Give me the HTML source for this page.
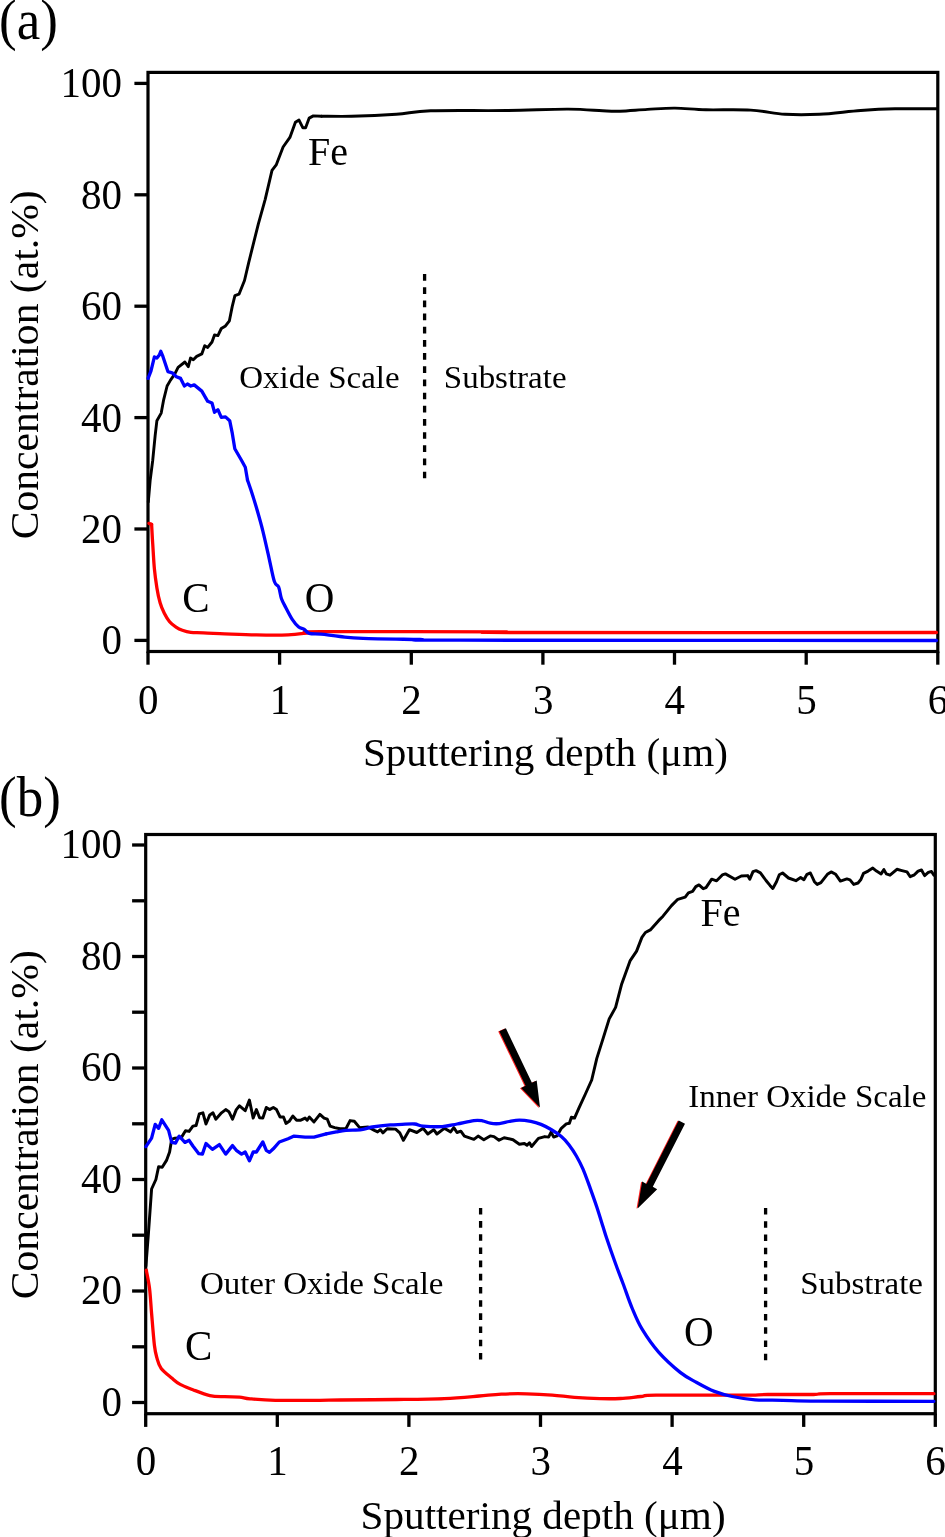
<!DOCTYPE html>
<html lang="en"><head><meta charset="utf-8"><title>Depth profiles</title>
<style>html,body{margin:0;padding:0;background:#fff}svg{display:block;will-change:transform}text{font-family:"Liberation Serif","DejaVu Serif",serif;fill:#000}.ax{stroke:#000;stroke-width:3.2;fill:none;stroke-linecap:butt}.tk{stroke:#000;stroke-width:3.3;fill:none;stroke-linecap:butt}.fe{stroke:#000;stroke-width:2.9;fill:none;stroke-linejoin:round;stroke-linecap:round}.o{stroke:#0000ff;stroke-width:3.3;fill:none;stroke-linejoin:round;stroke-linecap:round}.c{stroke:#ff0000;stroke-width:3.3;fill:none;stroke-linejoin:round;stroke-linecap:round}.dot{stroke:#000;stroke-width:3.3;fill:none}</style></head><body>
<svg width="945" height="1537" viewBox="0 0 945 1537">
<rect x="0" y="0" width="945" height="1537" fill="#fff"/>
<g>
<rect class="ax" x="148.0" y="72.4" width="789.8" height="579.1"/>
<line class="tk" x1="134.4" y1="640.4" x2="147.0" y2="640.4"/>
<line class="tk" x1="134.4" y1="529.0" x2="147.0" y2="529.0"/>
<line class="tk" x1="134.4" y1="417.6" x2="147.0" y2="417.6"/>
<line class="tk" x1="134.4" y1="306.2" x2="147.0" y2="306.2"/>
<line class="tk" x1="134.4" y1="194.8" x2="147.0" y2="194.8"/>
<line class="tk" x1="134.4" y1="83.4" x2="147.0" y2="83.4"/>
<text transform="translate(122.0,654.4) scale(1,1.04)" font-size="41" text-anchor="end">0</text>
<text transform="translate(122.0,543.0) scale(1,1.04)" font-size="41" text-anchor="end">20</text>
<text transform="translate(122.0,431.6) scale(1,1.04)" font-size="41" text-anchor="end">40</text>
<text transform="translate(122.0,320.2) scale(1,1.04)" font-size="41" text-anchor="end">60</text>
<text transform="translate(122.0,208.8) scale(1,1.04)" font-size="41" text-anchor="end">80</text>
<text transform="translate(122.0,97.4) scale(1,1.04)" font-size="41" text-anchor="end">100</text>
<line class="tk" x1="148.0" y1="651.5" x2="148.0" y2="664.7"/>
<text transform="translate(148.3,713.8) scale(1,1.04)" font-size="41" text-anchor="middle">0</text>
<line class="tk" x1="279.6" y1="651.5" x2="279.6" y2="664.7"/>
<text transform="translate(279.9,713.8) scale(1,1.04)" font-size="41" text-anchor="middle">1</text>
<line class="tk" x1="411.3" y1="651.5" x2="411.3" y2="664.7"/>
<text transform="translate(411.6,713.8) scale(1,1.04)" font-size="41" text-anchor="middle">2</text>
<line class="tk" x1="542.9" y1="651.5" x2="542.9" y2="664.7"/>
<text transform="translate(543.2,713.8) scale(1,1.04)" font-size="41" text-anchor="middle">3</text>
<line class="tk" x1="674.5" y1="651.5" x2="674.5" y2="664.7"/>
<text transform="translate(674.8,713.8) scale(1,1.04)" font-size="41" text-anchor="middle">4</text>
<line class="tk" x1="806.2" y1="651.5" x2="806.2" y2="664.7"/>
<text transform="translate(806.5,713.8) scale(1,1.04)" font-size="41" text-anchor="middle">5</text>
<line class="tk" x1="937.8" y1="651.5" x2="937.8" y2="664.7"/>
<text transform="translate(938.1,713.8) scale(1,1.04)" font-size="41" text-anchor="middle">6</text>
<text transform="translate(362.9,766.3) scale(1,0.96)" font-size="41" textLength="365" lengthAdjust="spacingAndGlyphs">Sputtering depth (μm)</text>
<text transform="translate(38.2,539.3) rotate(-90) scale(1,0.97)" font-size="41" textLength="349" lengthAdjust="spacingAndGlyphs">Concentration (at.%)</text>
<text transform="translate(-0.9,39.4) scale(1,1.07)" font-size="53">(a)</text>
</g>
<g>
<rect class="ax" x="145.7" y="834.5" width="789.6" height="579.2"/>
<line class="tk" x1="132.1" y1="1402.5" x2="144.7" y2="1402.5"/>
<line class="tk" x1="132.1" y1="1346.8" x2="144.7" y2="1346.8"/>
<line class="tk" x1="132.1" y1="1291.0" x2="144.7" y2="1291.0"/>
<line class="tk" x1="132.1" y1="1235.2" x2="144.7" y2="1235.2"/>
<line class="tk" x1="132.1" y1="1179.5" x2="144.7" y2="1179.5"/>
<line class="tk" x1="132.1" y1="1123.8" x2="144.7" y2="1123.8"/>
<line class="tk" x1="132.1" y1="1068.0" x2="144.7" y2="1068.0"/>
<line class="tk" x1="132.1" y1="1012.2" x2="144.7" y2="1012.2"/>
<line class="tk" x1="132.1" y1="956.5" x2="144.7" y2="956.5"/>
<line class="tk" x1="132.1" y1="900.8" x2="144.7" y2="900.8"/>
<line class="tk" x1="132.1" y1="845.0" x2="144.7" y2="845.0"/>
<text transform="translate(122.0,1415.5) scale(1,1.04)" font-size="41" text-anchor="end">0</text>
<text transform="translate(122.0,1304.0) scale(1,1.04)" font-size="41" text-anchor="end">20</text>
<text transform="translate(122.0,1192.5) scale(1,1.04)" font-size="41" text-anchor="end">40</text>
<text transform="translate(122.0,1081.0) scale(1,1.04)" font-size="41" text-anchor="end">60</text>
<text transform="translate(122.0,969.5) scale(1,1.04)" font-size="41" text-anchor="end">80</text>
<text transform="translate(122.0,858.0) scale(1,1.04)" font-size="41" text-anchor="end">100</text>
<line class="tk" x1="145.7" y1="1413.7" x2="145.7" y2="1426.9"/>
<text transform="translate(146.0,1474.8) scale(1,1.04)" font-size="41" text-anchor="middle">0</text>
<line class="tk" x1="277.3" y1="1413.7" x2="277.3" y2="1426.9"/>
<text transform="translate(277.6,1474.8) scale(1,1.04)" font-size="41" text-anchor="middle">1</text>
<line class="tk" x1="408.9" y1="1413.7" x2="408.9" y2="1426.9"/>
<text transform="translate(409.2,1474.8) scale(1,1.04)" font-size="41" text-anchor="middle">2</text>
<line class="tk" x1="540.5" y1="1413.7" x2="540.5" y2="1426.9"/>
<text transform="translate(540.8,1474.8) scale(1,1.04)" font-size="41" text-anchor="middle">3</text>
<line class="tk" x1="672.1" y1="1413.7" x2="672.1" y2="1426.9"/>
<text transform="translate(672.4,1474.8) scale(1,1.04)" font-size="41" text-anchor="middle">4</text>
<line class="tk" x1="803.7" y1="1413.7" x2="803.7" y2="1426.9"/>
<text transform="translate(804.0,1474.8) scale(1,1.04)" font-size="41" text-anchor="middle">5</text>
<line class="tk" x1="935.3" y1="1413.7" x2="935.3" y2="1426.9"/>
<text transform="translate(935.6,1474.8) scale(1,1.04)" font-size="41" text-anchor="middle">6</text>
<text transform="translate(360.6,1528.5) scale(1,0.96)" font-size="41" textLength="365" lengthAdjust="spacingAndGlyphs">Sputtering depth (μm)</text>
<text transform="translate(38.2,1299.2) rotate(-90) scale(1,0.97)" font-size="41" textLength="349" lengthAdjust="spacingAndGlyphs">Concentration (at.%)</text>
<text transform="translate(-0.9,816.2) scale(1,1.07)" font-size="53">(b)</text>
</g>
<polyline class="fe" points="148.3,502.0 150.2,480.0 152.7,460.5 155.2,435.1 156.9,420.7 161.2,413.1 163.7,399.6 167.1,386.0 170.5,380.1 174.7,374.2 178.1,367.4 184.9,362.0 188.3,366.6 190.5,358.1 193.3,359.8 196.7,356.4 201.8,353.9 204.7,345.7 207.7,347.4 212.0,342.0 214.5,334.9 217.9,335.6 221.3,328.5 225.5,325.9 229.4,320.8 232.2,306.6 234.9,295.6 239.0,294.2 244.5,280.5 248.7,262.6 258.3,224.1 265.2,199.3 272.0,170.4 276.2,164.9 283.1,147.0 289.9,137.4 295.4,122.3 299.0,120.1 302.9,127.8 305.6,127.8 309.2,118.1 313.3,115.9 321.6,116.2"/>
<path class="fe" d="M321.6,116.2C326.6,116.2 339.2,116.6 351.6,116.3C364.1,116.0 383.1,115.2 396.3,114.3C409.5,113.4 412.4,111.4 430.7,110.8C449.0,110.2 483.4,110.8 506.3,110.5C529.2,110.2 552.2,109.0 568.2,109.1C584.2,109.1 594.0,110.4 602.6,110.8C611.2,111.2 612.5,111.4 620.0,111.2C627.5,111.0 638.3,109.9 647.5,109.4C656.7,108.9 665.2,108.0 675.0,108.1C684.8,108.2 693.4,109.5 706.0,109.8C718.6,110.1 737.5,109.3 750.7,110.1C763.9,110.8 773.5,113.6 785.0,114.3C796.5,115.0 806.9,114.9 819.5,114.3C832.1,113.7 848.1,111.4 860.7,110.5C873.3,109.6 882.4,109.1 895.0,108.8C907.6,108.5 929.5,108.8 936.4,108.8"/>
<path class="c" d="M151.6,524.4C151.8,527.6 152.2,536.1 152.7,543.5C153.2,550.9 153.7,561.5 154.4,568.9C155.1,576.3 156.0,582.2 156.9,587.9C157.8,593.5 158.9,598.6 160.1,602.8C161.3,607.0 162.7,610.1 164.3,613.3C165.9,616.5 167.7,619.5 169.6,621.8C171.5,624.1 173.9,625.7 176.0,627.1C178.1,628.5 179.8,629.4 182.3,630.3C184.8,631.2 187.3,632.0 190.8,632.4C194.3,632.8 197.8,632.5 203.5,632.8C209.2,633.0 215.9,633.5 224.7,633.9C233.5,634.2 245.8,634.7 256.4,634.9C267.0,635.1 279.3,635.2 288.1,634.9C296.9,634.5 304.0,633.3 309.3,632.8C314.6,632.3 288.2,631.9 320.0,631.7C351.8,631.5 468.3,631.7 500.0,631.8C531.7,631.9 437.3,632.4 510.0,632.5C582.7,632.6 865.3,632.5 936.4,632.5"/>
<polyline class="c" points="148.9,523.4 151.6,524.4"/>
<polyline class="o" points="148.1,378.4 151.0,370.8 154.4,356.9 156.9,358.1 159.5,354.7 160.8,351.3 162.9,356.4 167.9,371.6 172.2,372.8 176.4,376.7 180.6,378.4 184.4,386.0 187.4,384.0 190.8,386.0 194.2,384.9 201.8,391.1 207.7,401.3 212.0,403.0 214.5,412.3 217.9,409.7 221.3,417.4 225.5,416.9 229.7,420.7 232.3,433.4 234.8,448.7 241.6,460.5 245.3,467.3 247.5,480.0"/>
<path class="o" d="M247.5,480.0C248.1,481.8 249.6,486.0 251.1,490.6C252.6,495.2 254.4,500.8 256.4,507.5C258.3,514.2 260.7,522.3 262.8,530.8C264.9,539.3 267.2,549.8 269.1,558.3C271.0,566.8 272.8,576.8 274.4,581.6C276.0,586.4 277.4,584.1 278.6,586.9C279.8,589.7 280.2,595.0 281.4,598.5C282.6,602.0 284.2,604.5 286.0,608.0C287.8,611.5 290.3,616.5 292.4,619.7C294.5,622.9 296.8,625.5 298.7,627.1C300.6,628.7 302.2,628.2 304.0,629.2C305.8,630.2 306.5,632.6 309.3,633.4C312.1,634.2 315.9,633.7 321.0,634.2C326.1,634.7 333.0,635.8 340.0,636.5C347.0,637.2 349.7,637.9 363.0,638.4C376.3,638.9 403.8,639.2 420.0,639.5C436.2,639.8 373.9,640.0 460.0,640.2C546.1,640.4 857.0,640.5 936.4,640.5"/>
<line class="dot" stroke-dasharray="6.7 6.47" x1="424.6" y1="274.1" x2="424.6" y2="478.6"/>
<text transform="translate(308.0,164.9) scale(1,1.0)" font-size="40">Fe</text>
<text transform="translate(182.2,612.2) scale(1,1.03)" font-size="41">C</text>
<text transform="translate(304.8,611.8) scale(1,1.03)" font-size="41">O</text>
<text transform="translate(239.3,387.7) scale(1,0.96)" font-size="33">Oxide Scale</text>
<text transform="translate(443.8,387.7) scale(1,0.96)" font-size="33">Substrate</text>
<polyline class="fe" style="stroke-width:2.95" points="145.9,1266.2 148.5,1232.4 151.6,1189.0 155.9,1179.5 158.6,1166.8 162.2,1167.2 166.5,1160.4 169.6,1152.0 171.7,1139.3 174.9,1138.2 181.3,1137.6 185.5,1130.8 189.1,1131.4 192.9,1126.1 196.1,1125.5 199.3,1113.9 202.9,1112.8 206.0,1124.0 209.8,1114.9 213.0,1112.8 215.8,1119.2 221.5,1112.8 225.7,1109.6 228.9,1111.7 232.5,1119.2 236.3,1109.6 239.5,1105.8 245.2,1110.7 249.4,1100.1 253.2,1118.1 256.4,1109.6 259.6,1117.7 262.8,1118.1 266.3,1107.5 269.5,1109.6 273.3,1107.5 276.5,1109.6 280.1,1117.0 283.5,1117.0 286.0,1123.4 289.2,1121.3 292.8,1116.0 296.6,1120.2 300.8,1120.2 305.1,1118.1 307.2,1120.2 309.3,1117.0 314.0,1121.9 319.9,1114.3 324.1,1118.1 327.3,1119.2 330.1,1126.1 334.7,1127.6 340.0,1128.7 345.9,1128.7 350.1,1120.6 354.3,1121.3 359.6,1127.6 368.1,1127.0 374.4,1130.4 377.6,1131.9 380.4,1129.7 382.9,1132.9 387.1,1128.7 395.6,1129.1 399.8,1132.9 403.4,1140.3 409.4,1129.7 416.8,1132.5 423.1,1128.3 427.8,1134.0 433.7,1129.7 436.9,1134.0 444.3,1128.3 450.6,1131.9 453.8,1127.6 457.0,1132.5 460.8,1131.2 464.4,1136.1 473.9,1139.3 478.1,1136.1 483.8,1139.7 490.2,1135.9 494.0,1136.6 499.0,1140.2 504.1,1137.7 513.0,1139.7 519.4,1144.3 524.4,1143.5 527.0,1145.3 529.5,1142.7 531.6,1146.5 538.4,1138.4 544.8,1136.6 548.6,1137.1 551.1,1132.1 553.7,1137.1 557.0,1135.9 561.3,1128.3 566.3,1123.9 569.4,1123.2 571.4,1117.3 574.5,1118.1 579.0,1107.9 585.4,1094.0 591.7,1080.0 596.8,1058.4 603.2,1038.1 609.2,1018.9 615.6,1007.4 621.7,983.9 630.2,960.6 636.6,951.1 641.9,937.4 645.4,932.5 650.3,929.9 658.8,920.4 663.0,916.2 671.5,905.6 677.8,899.3 685.2,897.1 688.4,892.9 692.6,891.4 695.8,886.6 699.0,884.9 703.2,888.7 706.0,887.6 711.7,879.2 716.6,880.8 722.3,874.9 725.4,873.9 735.0,879.2 741.3,876.0 747.7,875.6 749.8,879.2 753.0,871.7 756.1,870.7 760.4,872.8 766.0,880.5 770.0,885.4 772.8,888.5 776.5,881.7 779.3,874.8 782.6,873.0 788.5,878.0 795.9,880.7 800.6,877.6 803.9,879.8 807.0,874.3 810.4,873.0 814.4,881.7 817.2,884.4 820.9,882.6 827.4,874.3 831.1,871.9 835.7,874.3 840.4,881.1 846.9,878.9 850.0,879.8 853.7,884.4 858.0,883.0 860.7,879.8 863.5,873.3 868.1,871.1 872.8,868.1 876.5,871.1 881.1,873.9 883.9,869.6 886.3,873.9 890.0,875.2 896.9,869.3 901.9,870.6 907.0,871.9 910.2,876.7 914.4,874.8 918.1,871.1 921.5,870.0 924.6,875.6 928.3,872.4 931.5,871.5 933.9,875.2"/>
<path class="c" d="M146.3,1270.1C146.8,1273.1 148.6,1280.9 149.5,1288.1C150.4,1295.3 150.8,1304.0 151.6,1313.5C152.4,1323.0 153.5,1337.8 154.4,1345.2C155.3,1352.6 155.8,1354.0 156.9,1357.9C158.0,1361.8 158.7,1365.2 161.2,1368.5C163.7,1371.8 168.5,1375.3 171.7,1378.0C174.9,1380.7 176.7,1382.5 180.2,1384.4C183.7,1386.4 188.0,1387.8 192.9,1389.7C197.8,1391.6 204.5,1394.4 209.8,1395.6C215.1,1396.8 219.8,1396.5 224.7,1396.7C229.6,1397.0 235.3,1396.8 239.5,1397.1C243.7,1397.4 244.1,1398.3 250.1,1398.8C256.1,1399.3 263.8,1400.0 275.4,1400.3C287.0,1400.5 309.1,1400.3 319.9,1400.3C330.7,1400.2 327.2,1400.1 340.0,1400.0C352.8,1399.9 379.3,1399.7 396.7,1399.5C414.1,1399.3 430.6,1399.2 444.3,1398.6C458.1,1398.0 469.7,1396.8 479.2,1396.0C488.7,1395.2 493.5,1394.5 501.4,1394.1C509.3,1393.7 518.3,1393.6 526.8,1393.8C535.3,1394.0 544.3,1394.5 552.2,1395.1C560.1,1395.7 566.5,1396.7 574.4,1397.3C582.3,1397.9 592.1,1398.4 599.8,1398.6C607.5,1398.8 613.7,1398.8 620.5,1398.5C627.3,1398.2 634.9,1397.0 640.8,1396.5C646.7,1396.0 639.1,1395.4 656.0,1395.2C672.9,1395.0 723.8,1395.3 742.4,1395.2C761.0,1395.1 755.9,1394.6 767.8,1394.5C779.6,1394.4 803.1,1394.6 813.5,1394.5C823.9,1394.4 809.9,1393.8 830.0,1393.7C850.1,1393.6 916.6,1393.7 933.9,1393.7"/>
<polyline class="o" points="145.9,1146.7 151.6,1138.2 155.2,1124.4 158.6,1128.3 161.8,1119.8 168.6,1130.4 171.7,1142.4 175.6,1143.1 179.2,1136.1 184.9,1142.4 189.1,1140.3 192.9,1146.0 198.8,1153.7 202.4,1154.1 206.0,1143.5 212.4,1149.4 219.4,1144.6 225.7,1154.1 232.5,1145.6 236.3,1150.3 241.6,1154.1 245.2,1152.0 249.4,1160.8 253.2,1152.0 256.4,1152.0 262.8,1142.0 266.3,1150.3 269.5,1152.4 273.3,1148.8 279.3,1142.0 288.1,1138.8 294.1,1136.1 305.1,1137.1 314.0,1137.1 326.2,1133.8"/>
<path class="o" d="M326.2,1133.8C327.9,1133.5 333.0,1132.5 336.3,1131.9C339.6,1131.3 341.7,1130.8 345.9,1130.4C350.1,1130.0 357.3,1130.3 361.7,1129.7C366.1,1129.1 367.5,1127.8 372.3,1127.0C377.1,1126.2 385.4,1125.3 390.3,1124.9C395.2,1124.5 397.9,1124.6 402.0,1124.4C406.1,1124.2 411.2,1123.7 414.7,1124.0C418.2,1124.3 418.5,1125.7 423.1,1126.1C427.7,1126.5 436.6,1126.9 442.2,1126.6C447.8,1126.2 451.7,1125.0 457.0,1124.0C462.3,1123.0 469.7,1121.1 473.9,1120.6C478.1,1120.1 479.7,1120.4 482.4,1120.8C485.1,1121.2 487.4,1122.7 490.2,1123.2C493.0,1123.7 496.1,1123.9 499.3,1123.6C502.5,1123.3 505.9,1122.1 509.2,1121.5C512.5,1120.9 515.8,1120.1 519.4,1120.1C523.0,1120.1 527.2,1120.7 530.8,1121.4C534.4,1122.1 537.6,1123.1 541.0,1124.4C544.4,1125.8 547.7,1127.5 551.1,1129.5C554.5,1131.5 558.3,1134.0 561.3,1136.6C564.3,1139.1 566.4,1141.5 568.9,1144.8C571.4,1148.1 574.2,1152.2 576.5,1156.2C578.8,1160.2 580.8,1164.0 582.9,1168.9C585.0,1173.8 586.9,1179.1 589.2,1185.4C591.5,1191.8 594.5,1200.0 596.8,1207.0C599.1,1214.0 601.6,1222.2 603.2,1227.3C604.8,1232.4 604.5,1231.8 606.5,1237.8C608.5,1243.8 612.6,1255.6 615.4,1263.2C618.1,1270.8 620.2,1276.1 623.0,1283.5C625.8,1290.9 628.7,1300.0 631.9,1307.6C635.1,1315.2 637.6,1321.8 642.1,1329.2C646.6,1336.6 652.2,1344.9 658.6,1352.1C665.0,1359.3 673.9,1367.3 680.2,1372.4C686.6,1377.5 691.0,1379.3 696.7,1382.5C702.4,1385.7 708.5,1389.1 714.4,1391.4C720.3,1393.7 725.4,1395.1 732.2,1396.5C739.0,1397.9 746.6,1399.2 755.1,1399.8C763.6,1400.4 772.4,1400.1 783.0,1400.3C793.6,1400.5 793.5,1400.9 818.6,1401.1C843.8,1401.3 914.7,1401.3 933.9,1401.3"/>
<line class="dot" stroke-dasharray="6.6 6.58" x1="480.6" y1="1207.9" x2="480.6" y2="1359.5"/>
<line class="dot" stroke-dasharray="6.6 6.66" x1="765.6" y1="1207.9" x2="765.6" y2="1360.5"/>
<polygon points="499.3,1031.3 505.9,1028.3 531.9,1082.8 536.7,1080.6 540.0,1107.6 521.1,1088.0 525.6,1085.7" fill="#ff2020" transform="translate(-1.1,0.3)"/>
<polygon points="499.3,1031.3 505.9,1028.3 531.9,1082.8 536.7,1080.6 540.0,1107.6 521.1,1088.0 525.6,1085.7" fill="#000"/>
<polygon points="678.7,1120.4 685.0,1123.7 652.8,1186.7 657.2,1189.3 637.6,1208.5 642.2,1181.5 646.5,1184.1" fill="#ff2020" transform="translate(-1.1,0.3)"/>
<polygon points="678.7,1120.4 685.0,1123.7 652.8,1186.7 657.2,1189.3 637.6,1208.5 642.2,1181.5 646.5,1184.1" fill="#000"/>
<text transform="translate(700.6,925.7) scale(1,1.0)" font-size="40">Fe</text>
<text transform="translate(184.9,1359.6) scale(1,1.03)" font-size="41">C</text>
<text transform="translate(683.9,1345.7) scale(1,1.03)" font-size="41">O</text>
<text transform="translate(199.9,1293.6) scale(1,0.96)" font-size="33">Outer Oxide Scale</text>
<text transform="translate(688.3,1106.6) scale(1,0.96)" font-size="33">Inner Oxide Scale</text>
<text transform="translate(800.2,1293.6) scale(1,0.96)" font-size="33">Substrate</text>
</svg></body></html>
